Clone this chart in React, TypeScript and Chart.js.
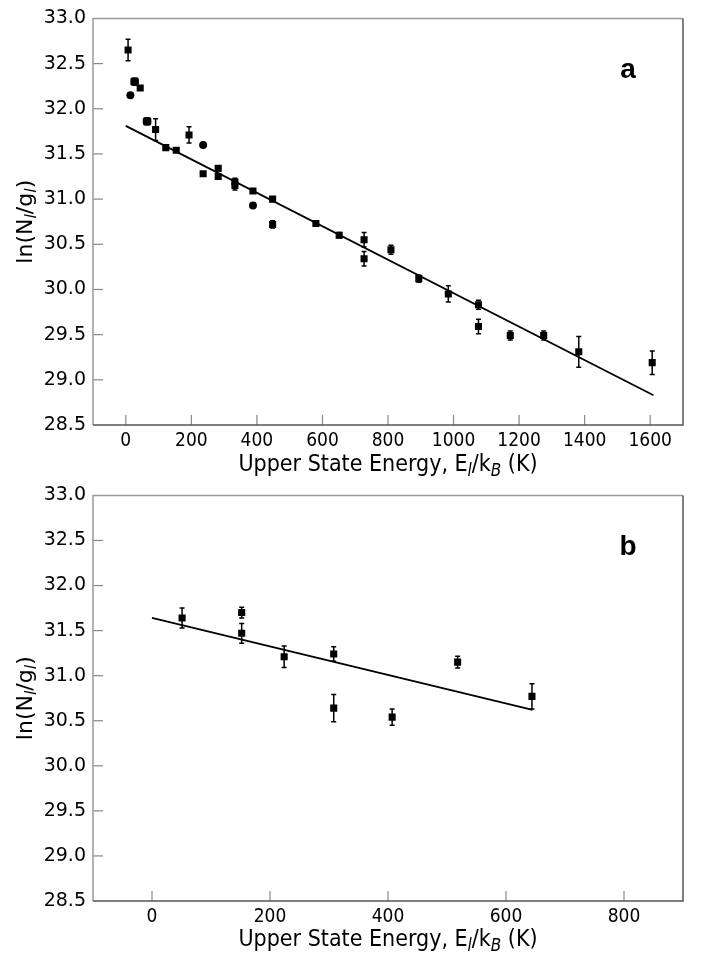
import { useEffect, useRef } from "react";
import { Chart, registerables } from "chart.js";

Chart.register(...registerables);

// panel a: upper state energy (K), ln(N/g), error bar half-height, marker
const energyA = [7, 14, 27, 44, 65, 91, 122, 154, 193, 236, 236, 282, 282, 333, 333, 388, 388, 448, 448, 580, 651, 727, 727, 809, 894, 984, 1076, 1076, 1173, 1275, 1382, 1606];
const lnNA = [32.65, 32.15, 32.3, 32.23, 31.86, 31.77, 31.57, 31.54, 31.71, 31.6, 31.28, 31.34, 31.25, 31.19, 31.15, 31.09, 30.93, 31.0, 30.72, 30.73, 30.6, 30.55, 30.34, 30.44, 30.12, 29.95, 29.83, 29.59, 29.49, 29.49, 29.31, 29.19];
const errA = [0.12, 0.02, 0.02, 0.02, 0.02, 0.12, 0.02, 0.02, 0.09, 0.02, 0.02, 0.03, 0.03, 0.04, 0.05, 0.02, 0.02, 0.02, 0.04, 0.02, 0.03, 0.08, 0.08, 0.05, 0.04, 0.09, 0.05, 0.08, 0.05, 0.05, 0.17, 0.13];
const markerA = ["rect", "circle", "rectRounded", "rect", "rectRounded", "rect", "rect", "rect", "rect", "circle", "rect", "rect", "rect", "rect", "rect", "rect", "circle", "rect", "rect", "rect", "rect", "rect", "rect", "rect", "rect", "rect", "rect", "rect", "rect", "rect", "rect", "rect"];
const fitXA = [0, 1610];
const fitYA = [31.81, 28.83];
const xTicksA = [0, 200, 400, 600, 800, 1000, 1200, 1400, 1600];

// panel b
const energyB = [51, 152, 152, 224, 308, 308, 407, 518, 644];
const lnNB = [31.64, 31.7, 31.47, 31.21, 31.24, 30.64, 30.54, 31.15, 30.77];
const errB = [0.11, 0.06, 0.11, 0.12, 0.08, 0.15, 0.09, 0.065, 0.14];
const markerB = ["rect", "rect", "rect", "rect", "rect", "rect", "rect", "rect", "rect"];
const fitXB = [0, 645];
const fitYB = [31.64, 30.62];
const xTicksB = [0, 200, 400, 600, 800];

const yTicks = [28.5, 29.0, 29.5, 30.0, 30.5, 31.0, 31.5, 32.0, 32.5, 33.0];

type Run = { text: string; sub?: boolean };
const xTitle: Run[] = [
  { text: "Upper State Energy, E" },
  { text: "l", sub: true },
  { text: "/k" },
  { text: "B", sub: true },
  { text: " (K)" },
];
const yTitle: Run[] = [
  { text: "ln(N" },
  { text: "l", sub: true },
  { text: "/g" },
  { text: "l", sub: true },
  { text: ")" },
];

function drawRich(ctx: CanvasRenderingContext2D, runs: Run[], x: number, y: number, size: number, family: string) {
  const font = (r: Run) =>
    r.sub ? `italic ${Math.round(size * 0.72)}px "${family}"` : `${size}px "${family}"`;
  let w = 0;
  runs.forEach((r) => {
    ctx.font = font(r);
    w += ctx.measureText(r.text).width;
  });
  let cx = x - w / 2;
  ctx.textAlign = "left";
  ctx.textBaseline = "middle";
  ctx.fillStyle = "#000";
  runs.forEach((r) => {
    ctx.font = font(r);
    ctx.fillText(r.text, cx, r.sub ? y + size * 0.28 : y);
    cx += ctx.measureText(r.text).width;
  });
}

interface Props {
  energy: number[];
  lnN: number[];
  err: number[];
  marker: string[];
  fitX: number[];
  fitY: number[];
  xMin: number;
  xMax: number;
  xTicks: number[];
  letter: string;
  top: number;
  titleY: number;
}

function Panel(props: Props) {
  const ref = useRef<HTMLCanvasElement>(null);
  useEffect(() => {
    const ctx = ref.current!.getContext("2d")!;
    const H = 477;
    const plotH = 411;

    const decor = {
      id: "decor",
      beforeDatasetsDraw(chart: any) {
        const c = chart.ctx;
        const { left, bottom } = chart.chartArea;
        const xs = chart.scales.x;
        const ys = chart.scales.y;
        c.save();
        // inward ticks
        c.strokeStyle = "#888";
        c.lineWidth = 1.2;
        xs.ticks.forEach((t: any) => {
          const px = xs.getPixelForValue(t.value);
          c.beginPath();
          c.moveTo(px, bottom);
          c.lineTo(px, bottom - 10);
          c.stroke();
        });
        ys.ticks.forEach((t: any) => {
          const py = ys.getPixelForValue(t.value);
          if (t.value <= ys.min || t.value >= ys.max) return;
          c.beginPath();
          c.moveTo(left, py);
          c.lineTo(left + 10, py);
          c.stroke();
        });
        // error bars
        const meta = chart.getDatasetMeta(0);
        c.strokeStyle = "#000";
        c.lineWidth = 1.5;
        meta.data.forEach((pt: any, i: number) => {
          const v = props.lnN[i];
          const e = props.err[i];
          const y1 = ys.getPixelForValue(v - e);
          const y2 = ys.getPixelForValue(v + e);
          c.beginPath();
          c.moveTo(pt.x, y1);
          c.lineTo(pt.x, y2);
          c.moveTo(pt.x - 2.5, y1);
          c.lineTo(pt.x + 2.5, y1);
          c.moveTo(pt.x - 2.5, y2);
          c.lineTo(pt.x + 2.5, y2);
          c.stroke();
        });
        c.restore();
      },
      afterDraw(chart: any) {
        const c = chart.ctx;
        const { left, right, top, bottom } = chart.chartArea;
        c.save();
        c.lineWidth = 1.5;
        c.strokeStyle = "#999";
        c.beginPath();
        c.moveTo(left, bottom);
        c.lineTo(left, top);
        c.lineTo(right, top);
        c.stroke();
        c.strokeStyle = "#555";
        c.beginPath();
        c.moveTo(right, top);
        c.lineTo(right, bottom);
        c.lineTo(left, bottom);
        c.stroke();
        // axis titles
        drawRich(c, xTitle, (left + right) / 2, props.titleY, 23, "DejaVu Sans Condensed");
        c.translate(26, (top + bottom) / 2);
        c.rotate(-Math.PI / 2);
        drawRich(c, yTitle, 0, 0, 22, "DejaVu Sans");
        c.restore();
        // panel letter
        c.save();
        c.font = 'bold 28px "Liberation Sans"';
        c.textAlign = "center";
        c.textBaseline = "middle";
        c.fillStyle = "#000";
        c.fillText(props.letter, 628, top + 52);
        c.restore();
      },
    };

    const chart = new Chart(ctx, {
      type: "scatter",
      data: {
        datasets: [
          {
            data: props.energy.map((x, i) => ({ x, y: props.lnN[i] })),
            pointStyle: props.marker as any,
            pointRadius: props.marker.map((m) => (m === "circle" ? 4 : 5)),
            backgroundColor: "#000",
            borderColor: "#000",
            borderWidth: 0,
          },
          {
            data: props.fitX.map((x, i) => ({ x, y: props.fitY[i] })),
            showLine: true,
            pointRadius: 0,
            borderColor: "#000",
            borderWidth: 1.8,
          },
        ],
      },
      options: {
        responsive: false,
        animation: false,
        layout: { padding: { top: props.top, right: 19, left: 0, bottom: 0 } },
        plugins: { legend: { display: false }, tooltip: { enabled: false } },
        scales: {
          x: {
            type: "linear",
            min: props.xMin,
            max: props.xMax,
            grid: { display: false, drawTicks: false },
            border: { display: false },
            afterBuildTicks: (s: any) => {
              s.ticks = props.xTicks.map((v) => ({ value: v }));
            },
            afterFit: (s: any) => {
              s.height = H - props.top - plotH;
            },
            ticks: {
              padding: 5,
              color: "#000",
              maxRotation: 0,
              font: { family: "DejaVu Sans Condensed", size: 19 },
              callback: (v: any) => String(v),
            },
          },
          y: {
            type: "linear",
            min: 28.5,
            max: 33,
            grid: { display: false, drawTicks: false },
            border: { display: false },
            afterBuildTicks: (s: any) => {
              s.ticks = yTicks.map((v) => ({ value: v }));
            },
            afterFit: (s: any) => {
              s.width = 93;
            },
            ticks: {
              padding: 7,
              color: "#000",
              font: { family: "DejaVu Sans", size: 19 },
              callback: (v: any) => Number(v).toFixed(1),
            },
          },
        },
      },
      plugins: [decor],
    });
    return () => {
      chart.destroy();
    };
  }, [props]);
  return <canvas ref={ref} width={702} height={477} style={{ display: "block" }}></canvas>;
}

export default function App() {
  return (
    <div style={{ position: "absolute", left: 0, top: 0, width: 702, height: 954, background: "#fff" }}>
      <Panel
        energy={energyA}
        lnN={lnNA}
        err={errA}
        marker={markerA}
        fitX={fitXA}
        fitY={fitYA}
        xMin={-100}
        xMax={1700}
        xTicks={xTicksA}
        letter="a"
        top={14}
        titleY={465}
      />
      <Panel
        energy={energyB}
        lnN={lnNB}
        err={errB}
        marker={markerB}
        fitX={fitXB}
        fitY={fitYB}
        xMin={-100}
        xMax={900}
        xTicks={xTicksB}
        letter="b"
        top={13}
        titleY={463}
      />
    </div>
  );
}
